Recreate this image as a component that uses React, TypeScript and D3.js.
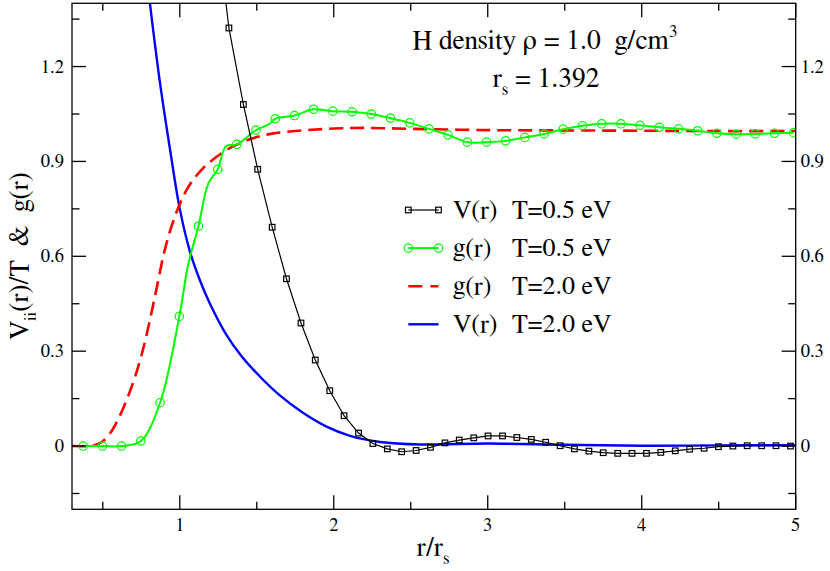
import * as React from "react";
import * as d3 from "d3";

// axis ticks
const xMajor = [1, 2, 3, 4, 5];
const xMinor = [0.5, 1.5, 2.5, 3.5, 4.5];
const yMajor = [0, 0.3, 0.6, 0.9, 1.2];
const yMinor = [-0.15, 0.15, 0.45, 0.75, 1.05, 1.35];
const xTickLabels = ["1", "2", "3", "4", "5"];
const yTickLabels = ["0", "0.3", "0.6", "0.9", "1.2"];

// V(r) T=0.5 eV (black squares)
const v05R = [
  1.226, 1.319, 1.413, 1.506, 1.6, 1.693, 1.787, 1.88, 1.974, 2.067, 2.161,
  2.254, 2.348, 2.441, 2.535, 2.628, 2.722, 2.815, 2.909, 3.002, 3.096, 3.189,
  3.283, 3.376, 3.47, 3.563, 3.657, 3.75, 3.844, 3.937, 4.031, 4.124, 4.218,
  4.311, 4.405, 4.498, 4.592, 4.685, 4.779, 4.872, 4.966,
];
const v05 = [
  1.7, 1.322, 1.08, 0.875, 0.692, 0.529, 0.389, 0.272, 0.175, 0.096, 0.041,
  0.008, -0.009, -0.018, -0.014, -0.004, 0.01, 0.019, 0.026, 0.032, 0.032,
  0.027, 0.021, 0.012, 0.001, -0.009, -0.016, -0.021, -0.023, -0.023, -0.023,
  -0.02, -0.015, -0.01, -0.007, -0.002, 0, 0.001, 0.001, 0.001, 0,
];

// g(r) T=0.5 eV (green circles)
const g05R = [
  0.373, 0.498, 0.622, 0.747, 0.872, 0.997, 1.121, 1.246, 1.371, 1.495, 1.62,
  1.745, 1.869, 1.994, 2.119, 2.244, 2.368, 2.493, 2.618, 2.742, 2.867, 2.992,
  3.116, 3.241, 3.366, 3.49, 3.615, 3.74, 3.865, 3.989, 4.114, 4.239, 4.363,
  4.488, 4.613, 4.737, 4.862, 4.987,
];
const g05 = [
  0, 0, 0, 0.016, 0.137, 0.41, 0.695, 0.875, 0.954, 0.999, 1.035, 1.045,
  1.065, 1.059, 1.057, 1.05, 1.037, 1.022, 1.003, 0.984, 0.961, 0.961, 0.965,
  0.976, 0.987, 1.002, 1.013, 1.019, 1.019, 1.014, 1.008, 1.003, 0.997, 0.989,
  0.986, 0.987, 0.989, 0.991,
];
// points of the green line between symbols
const g05LineR = [1.055, 1.185, 1.3, 1.58];
const g05Line = [0.575, 0.83, 0.948, 1.018];

// g(r) T=2.0 eV (red dashed)
const g20R = [
  0.3, 0.4, 0.45, 0.5, 0.55, 0.6, 0.65, 0.7, 0.75, 0.8, 0.85, 0.9, 0.95, 1.0,
  1.05, 1.1, 1.15, 1.2, 1.3, 1.4, 1.5, 1.6, 1.8, 2.0, 2.2, 2.5, 3.0, 3.5, 4.0,
  4.5, 5.0,
];
const g20 = [
  0, 0, 0.003, 0.015, 0.042, 0.085, 0.14, 0.205, 0.285, 0.385, 0.5, 0.615,
  0.7, 0.765, 0.815, 0.85, 0.878, 0.9, 0.935, 0.96, 0.977, 0.988, 0.998, 1.004,
  1.006, 1.003, 0.999, 0.998, 0.997, 0.996, 0.996,
];

// V(r) T=2.0 eV (blue)
const v20R = [
  0.78, 0.806, 0.871, 0.936, 1.0, 1.066, 1.13, 1.196, 1.305, 1.4, 1.52, 1.65,
  1.8, 1.95, 2.1, 2.3, 2.56, 3.0, 3.5, 4.0, 4.5, 5.0,
];
const v20 = [
  1.51, 1.4, 1.15, 0.94, 0.75, 0.615, 0.525, 0.45, 0.35, 0.285, 0.22, 0.16,
  0.105, 0.062, 0.033, 0.013, 0.005, 0.008, 0.004, 0.001, 0.002, 0.003,
];

const legendNames = ["V(r)", "g(r)", "g(r)", "V(r)"];
const legendTemps = ["T=0.5 eV", "T=0.5 eV", "T=2.0 eV", "T=2.0 eV"];

const W = 830,
  H = 571;
const plot = { left: 72, right: 795.7, top: 3.3, bottom: 509.3 };
const FONT = '"FreeSerif", "Liberation Serif", "DejaVu Serif", serif';
const NB = "\u00a0";

const GREEN = "#00ff00",
  RED = "#ff0000",
  BLUE = "#0000ff";

type Pt = [number, number];
const zip = (a: number[], b: number[]) => a.map((v, i) => [v, b[i]] as Pt);

export default function App() {
  React.useEffect(() => {
    document.body.style.margin = "0";
  }, []);

  const x = d3.scaleLinear().domain([0.3, 5]).range([plot.left, plot.right]);
  const y = d3.scaleLinear().domain([-0.2, 1.4]).range([plot.bottom, plot.top]);

  const smooth = d3
    .line<Pt>()
    .curve(d3.curveCatmullRom.alpha(0.5))
    .x((d) => x(d[0]))
    .y((d) => y(d[1]));
  const straight = d3
    .line<Pt>()
    .x((d) => x(d[0]))
    .y((d) => y(d[1]));

  const greenPts = zip(g05R, g05)
    .concat(zip(g05LineR, g05Line))
    .sort((a, b) => a[0] - b[0]);

  const tf = (size: number): React.CSSProperties => ({
    fontFamily: FONT,
    fontSize: size,
  });

  const rowY = (i: number) => 210 + i * 38.1;
  const lx0 = 408.3,
    lx1 = 438.5;

  const xt = xMajor.map((v) => [v, 14]).concat(xMinor.map((v) => [v, 7.5]));
  const yt = yMajor.map((v) => [v, 14]).concat(yMinor.map((v) => [v, 7.5]));

  return (
    <svg width={W} height={H} style={{ display: "block", background: "#fff" }}>
      <defs>
        <clipPath id="plotclip">
          <rect
            x={plot.left}
            y={plot.top}
            width={plot.right - plot.left}
            height={plot.bottom - plot.top}
          />
        </clipPath>
      </defs>

      <g clipPath="url(#plotclip)" fill="none">
        <path d={smooth(zip(v20R, v20)) || ""} stroke={BLUE} strokeWidth={2.4} />
        <path
          d={smooth(zip(g20R, g20)) || ""}
          stroke={RED}
          strokeWidth={2.6}
          strokeDasharray="14,7"
        />
        <path d={smooth(greenPts) || ""} stroke={GREEN} strokeWidth={2} />
        {zip(g05R, g05).map((d, i) => (
          <circle
            key={"g" + i}
            cx={x(d[0])}
            cy={y(d[1])}
            r={4.2}
            stroke={GREEN}
            strokeWidth={1.2}
          />
        ))}
        <path d={straight(zip(v05R, v05)) || ""} stroke="#000" strokeWidth={1.2} />
        {zip(v05R, v05).map((d, i) => (
          <rect
            key={"v" + i}
            x={x(d[0]) - 2.8}
            y={y(d[1]) - 2.8}
            width={5.6}
            height={5.6}
            stroke="#000"
            strokeWidth={1.2}
          />
        ))}
      </g>

      {/* frame and ticks */}
      <g stroke="#000" strokeWidth={1.3} fill="none">
        <rect
          x={plot.left}
          y={plot.top}
          width={plot.right - plot.left}
          height={plot.bottom - plot.top}
        />
        {xt.map(([v, len], i) => (
          <g key={"xt" + i}>
            <line x1={x(v)} x2={x(v)} y1={plot.bottom} y2={plot.bottom - len} />
            <line x1={x(v)} x2={x(v)} y1={plot.top} y2={plot.top + len} />
          </g>
        ))}
        {yt.map(([v, len], i) => (
          <g key={"yt" + i}>
            <line y1={y(v)} y2={y(v)} x1={plot.left} x2={plot.left + len} />
            <line y1={y(v)} y2={y(v)} x1={plot.right} x2={plot.right - len} />
          </g>
        ))}
      </g>

      {/* tick labels */}
      {xMajor.map((v, i) => (
        <text key={"xl" + i} x={x(v)} y={531} textAnchor="middle" style={tf(18.5)}>
          {xTickLabels[i]}
        </text>
      ))}
      {yMajor.map((v, i) => (
        <g key={"yl" + i}>
          <text x={plot.left - 8} y={y(v) + 6} textAnchor="end" style={tf(18.5)}>
            {yTickLabels[i]}
          </text>
          <text x={plot.right + 5} y={y(v) + 6} style={tf(18.5)}>
            {yTickLabels[i]}
          </text>
        </g>
      ))}

      {/* axis titles */}
      <text x={433} y={556} textAnchor="middle" style={tf(27)}>
        r/r
        <tspan dy={8} style={{ fontSize: 17 }}>
          s
        </tspan>
      </text>
      <text
        transform="translate(28,256) rotate(-90)"
        textAnchor="middle"
        style={tf(27)}
      >
        V
        <tspan dy={8} style={{ fontSize: 17 }}>
          ii
        </tspan>
        <tspan dy={-8}>{"(r)/T " + NB + "& " + NB + "g(r)"}</tspan>
      </text>

      {/* annotation */}
      <text x={545} y={49} textAnchor="middle" style={tf(27.5)}>
        {"H density \u03c1 = 1.0 " + NB + "g/cm"}
        <tspan dy={-12} style={{ fontSize: 17 }}>
          3
        </tspan>
      </text>
      <text x={546} y={87} textAnchor="middle" style={tf(27.5)}>
        r
        <tspan dy={8} style={{ fontSize: 17 }}>
          s
        </tspan>
        <tspan dy={-8}>{" = 1.392"}</tspan>
      </text>

      {/* legend */}
      <g fill="none">
        <line x1={lx0} x2={lx1} y1={rowY(0)} y2={rowY(0)} stroke="#000" strokeWidth={1.2} />
        {[lx0, lx1].map((px) => (
          <rect
            key={"ls" + px}
            x={px - 2.8}
            y={rowY(0) - 2.8}
            width={5.6}
            height={5.6}
            stroke="#000"
            strokeWidth={1.2}
          />
        ))}
        <line x1={lx0} x2={lx1} y1={rowY(1)} y2={rowY(1)} stroke={GREEN} strokeWidth={2} />
        {[lx0, lx1].map((px) => (
          <circle
            key={"lc" + px}
            cx={px}
            cy={rowY(1)}
            r={4.2}
            stroke={GREEN}
            strokeWidth={1.2}
          />
        ))}
        <line
          x1={lx0}
          x2={lx1}
          y1={rowY(2)}
          y2={rowY(2)}
          stroke={RED}
          strokeWidth={2.6}
          strokeDasharray="14,8"
        />
        <line x1={lx0} x2={lx1} y1={rowY(3)} y2={rowY(3)} stroke={BLUE} strokeWidth={2.4} />
      </g>
      {legendNames.map((name, i) => (
        <g key={"lt" + i}>
          <text x={453} y={rowY(i) + 8} style={tf(26)}>
            {name}
          </text>
          <text x={512} y={rowY(i) + 8} style={tf(26)}>
            {legendTemps[i]}
          </text>
        </g>
      ))}
    </svg>
  );
}
